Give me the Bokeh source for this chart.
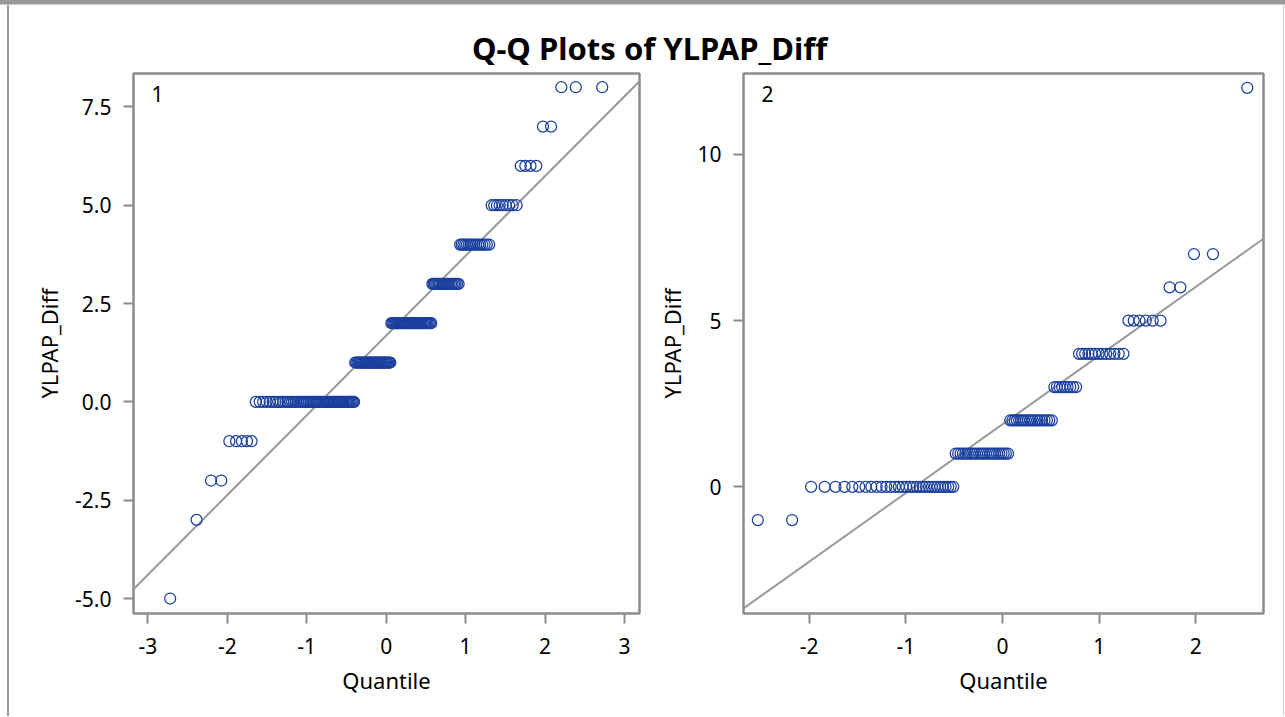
from statistics import NormalDist

import numpy as np
from bokeh.embed import file_html
from bokeh.layouts import column, row
from bokeh.models import FixedTicker, Label, NumeralTickFormatter, Range1d, Spacer
from bokeh.plotting import figure
from bokeh.resources import INLINE

# ---------------- data ----------------
TITLE = "Q-Q Plots of YLPAP_Diff"
X_LABEL = "Quantile"
Y_LABEL = "YLPAP_Diff"
panel_names = ["1", "2"]

# group 1: distinct YLPAP_Diff values and how many observations have each
g1_values = [-5, -3, -2, -1, 0, 1, 2, 3, 4, 5, 6, 7, 8]
g1_counts = [1, 1, 2, 5, 57, 34, 37, 20, 16, 9, 4, 2, 3]
# group 2
g2_values = [-1, 0, 1, 2, 3, 4, 5, 6, 7, 12]
g2_counts = [2, 32, 24, 19, 9, 13, 6, 2, 2, 1]

g1_xticks = [-3, -2, -1, 0, 1, 2, 3]
g1_yticks = [-5.0, -2.5, 0.0, 2.5, 5.0, 7.5]
g2_xticks = [-2, -1, 0, 1, 2]
g2_yticks = [0, 5, 10]

# ---------------- styling ----------------
FONT = "Noto Sans"
GREY = "#8c8c8c"
LINE_GREY = "#9a9a9a"
BORDER_GREY = "#9a9a9a"
LIGHT_GREY = "#cfcfcf"
MARKER = "#1a3f9e"

PAGE_W = 1285
TITLE_H = 63
BODY_H = 648
FRAME_H = 540


def qq(values, counts):
    """Normal quantiles (Blom, as SAS QQPLOT) for the sorted sample."""
    y = np.repeat(np.array(values, dtype=float), counts)
    y.sort()
    n = len(y)
    nd = NormalDist()
    x = np.array([nd.inv_cdf((i - 0.375) / (n + 0.25)) for i in range(1, n + 1)])
    return x, y, y.mean(), y.std(ddof=1)


def rule(w, h, color):
    return Spacer(width=w, height=h, styles={"background-color": color})


def panel(values, counts, name, xr, yr, xticks, yticks, yfmt, fw, ml, mr,
          ystand, ylabstand):
    x, y, mu, sd = qq(values, counts)
    p = figure(
        frame_width=fw, frame_height=FRAME_H,
        x_range=Range1d(*xr), y_range=Range1d(*yr),
        output_backend="svg", toolbar_location=None,
        min_border_left=ml, min_border_right=mr,
        min_border_top=5, min_border_bottom=BODY_H - FRAME_H - 5,
    )
    p.grid.visible = False
    p.outline_line_color = GREY
    p.outline_line_width = 2.5
    p.background_fill_color = "white"
    p.border_fill_color = "white"

    for ax in (p.xaxis[0], p.yaxis[0]):
        ax.axis_line_color = None
        ax.major_tick_line_color = GREY
        ax.major_tick_line_width = 2
        ax.major_tick_out = 10
        ax.major_tick_in = 0
        ax.minor_tick_line_color = None
        ax.major_label_text_font = FONT
        ax.major_label_text_font_size = "21px"
        ax.major_label_text_color = "black"
        ax.axis_label_text_font = FONT
        ax.axis_label_text_font_size = "22px"
        ax.axis_label_text_font_style = "normal"
        ax.axis_label_text_color = "black"
    p.xaxis[0].ticker = FixedTicker(ticks=xticks)
    p.yaxis[0].ticker = FixedTicker(ticks=yticks)
    p.xaxis[0].formatter = NumeralTickFormatter(format="0")
    p.yaxis[0].formatter = NumeralTickFormatter(format=yfmt)
    p.xaxis[0].axis_label = X_LABEL
    p.yaxis[0].axis_label = Y_LABEL
    p.xaxis[0].major_label_standoff = 14
    p.xaxis[0].axis_label_standoff = 8
    p.yaxis[0].major_label_standoff = ystand
    p.yaxis[0].axis_label_standoff = ylabstand

    # normal reference line (mu, sigma estimated from the sample)
    lx = np.array([xr[0] - 1, xr[1] + 1])
    p.line(lx, mu + sd * lx, line_color=LINE_GREY, line_width=2)

    p.scatter(x, y, marker="circle", size=11, fill_color=None,
              line_color=MARKER, line_width=1.25)

    fx = (xr[1] - xr[0]) / fw
    fy = (yr[1] - yr[0]) / FRAME_H
    p.add_layout(Label(x=xr[0] + 18 * fx, y=yr[1] - 20 * fy, text=name,
                       text_font=FONT, text_font_size="21px",
                       text_color="black", text_baseline="alphabetic"))
    return p


p1 = panel(g1_values, g1_counts, panel_names[0], (-3.181, 3.189), (-5.381, 8.349),
           g1_xticks, g1_yticks, "0.0", 506, 124, 8, 12, 8)
p2 = panel(g2_values, g2_counts, panel_names[1], (-2.68, 2.70), (-3.81, 12.43),
           g2_xticks, g2_yticks, "0", 520, 96, 5, 12, 7)

inner_w = (124 + 506 + 8) + (96 + 520 + 5)

t = figure(width=inner_w, height=TITLE_H, x_range=Range1d(0, inner_w),
           y_range=Range1d(0, TITLE_H), x_axis_type=None, y_axis_type=None,
           output_backend="svg", toolbar_location=None, min_border=0)
t.outline_line_color = None
t.grid.visible = False
t.border_fill_color = "white"
t.add_layout(Label(x=640, y=21, text=TITLE, text_font=FONT,
                   text_font_size="31px", text_font_style="bold",
                   text_color="black", text_align="center",
                   text_baseline="alphabetic"))

body_h = TITLE_H + BODY_H
inner = column(t, row(p1, p2))
layout = column(
    rule(PAGE_W, 4, BORDER_GREY),
    rule(PAGE_W, 1, LIGHT_GREY),
    row(
        Spacer(width=7, height=body_h),
        rule(2, body_h, BORDER_GREY),
        inner,
        Spacer(width=PAGE_W - 7 - 2 - inner_w - 2, height=body_h),
        rule(1, body_h, LIGHT_GREY),
        Spacer(width=1, height=body_h),
    ),
)
open("out.html", "w").write(file_html(layout, INLINE))
